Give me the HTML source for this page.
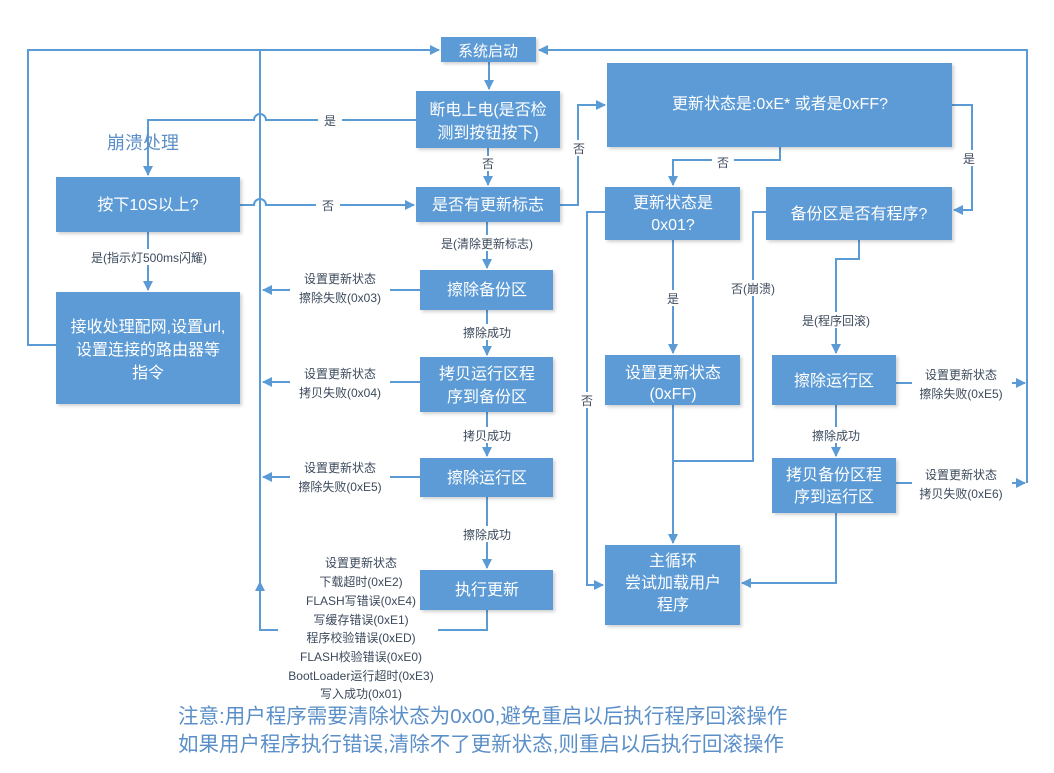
<!DOCTYPE html>
<html><head><meta charset="utf-8"><style>
html,body{margin:0;padding:0;background:#fff;}
svg{display:block;font-family:"Liberation Sans","Noto Sans CJK SC",sans-serif;}
.b{fill:#5b9bd5;filter:url(#sh);}
.t{fill:#fff;font-size:16px;text-anchor:middle;}
.l{stroke:#5b9bd5;stroke-width:2;fill:none;}
.s{fill:#3c4a5c;font-size:12px;text-anchor:middle;}
.w{fill:#fff;}
</style></head><body>
<svg width="1054" height="773" viewBox="0 0 1054 773">
<defs>
<filter id="sh" x="-5%" y="-5%" width="115%" height="120%"><feDropShadow dx="2" dy="2" stdDeviation="1.5" flood-color="#000" flood-opacity="0.18"/></filter>
<marker id="a" markerWidth="10" markerHeight="10" refX="9" refY="5" orient="auto" markerUnits="userSpaceOnUse"><path d="M0,0 L10,5 L0,10 Z" fill="#5b9bd5"/></marker>
</defs>

<!-- lines -->
<polyline class="l" points="56,345 28,345 28,50 439,50" marker-end="url(#a)"/>
<polyline class="l" points="1027,483 1027,50 539,50" marker-end="url(#a)"/>
<line class="l" x1="260" y1="50" x2="260" y2="590"/>
<polyline class="l" points="487,610 487,630 260,630 260,582" marker-end="url(#a)"/>
<line class="l" x1="489" y1="62" x2="489" y2="89" marker-end="url(#a)"/>
<path class="l" d="M416,120 L266,120 A6,6 0 0 0 254,120 L148,120 L148,175" marker-end="url(#a)"/>
<path class="l" d="M240,205 L254,205 A6,6 0 0 1 266,205 L414,205" marker-end="url(#a)"/>
<line class="l" x1="148" y1="232" x2="148" y2="290" marker-end="url(#a)"/>
<line class="l" x1="488" y1="148" x2="488" y2="185" marker-end="url(#a)"/>
<polyline class="l" points="560,205 578,205 578,105 605,105" marker-end="url(#a)"/>
<line class="l" x1="487" y1="222" x2="487" y2="268" marker-end="url(#a)"/>
<line class="l" x1="487" y1="310" x2="487" y2="355" marker-end="url(#a)"/>
<line class="l" x1="487" y1="412" x2="487" y2="456" marker-end="url(#a)"/>
<line class="l" x1="487" y1="497" x2="487" y2="568" marker-end="url(#a)"/>
<line class="l" x1="420" y1="290" x2="263" y2="290" marker-end="url(#a)"/>
<line class="l" x1="420" y1="382" x2="263" y2="382" marker-end="url(#a)"/>
<line class="l" x1="420" y1="477" x2="263" y2="477" marker-end="url(#a)"/>
<polyline class="l" points="780,147 780,160 673,160 673,185" marker-end="url(#a)"/>
<polyline class="l" points="952,105 972,105 972,210 954,210" marker-end="url(#a)"/>
<line class="l" x1="673" y1="240" x2="673" y2="353" marker-end="url(#a)"/>
<polyline class="l" points="605,212 587,212 587,585 603,585" marker-end="url(#a)"/>
<polyline class="l" points="766,212 753,212 753,461 673,461"/>
<line class="l" x1="673" y1="405" x2="673" y2="543" marker-end="url(#a)"/>
<polyline class="l" points="859,240 859,259 836,259 836,353" marker-end="url(#a)"/>
<line class="l" x1="836" y1="405" x2="836" y2="456" marker-end="url(#a)"/>
<polyline class="l" points="836,513 836,583 742,583" marker-end="url(#a)"/>
<line class="l" x1="896" y1="383" x2="1025" y2="383" marker-end="url(#a)"/>
<line class="l" x1="896" y1="483" x2="1025" y2="483" marker-end="url(#a)"/>

<!-- label backgrounds & labels -->
<rect class="w" x="318" y="112" width="24" height="16"/><text class="s" x="330" y="125">是</text>
<rect class="w" x="316" y="197" width="24" height="16"/><text class="s" x="328" y="210">否</text>
<rect class="w" x="82" y="249" width="134" height="16"/><text class="s" x="149" y="262">是(指示灯500ms闪耀)</text>
<rect class="w" x="478" y="156" width="20" height="15"/><text class="s" x="488" y="168">否</text>
<rect class="w" x="570" y="140" width="18" height="16"/><text class="s" x="579" y="153">否</text>
<rect class="w" x="430" y="235" width="114" height="16"/><text class="s" x="487" y="248">是(清除更新标志)</text>
<rect class="w" x="455" y="324" width="64" height="16"/><text class="s" x="487" y="337">擦除成功</text>
<rect class="w" x="455" y="427" width="64" height="16"/><text class="s" x="487" y="440">拷贝成功</text>
<rect class="w" x="455" y="526" width="64" height="16"/><text class="s" x="487" y="539">擦除成功</text>
<rect class="w" x="290" y="270" width="100" height="36"/><text class="s" x="340" y="283">设置更新状态</text><text class="s" x="340" y="302">擦除失败(0x03)</text>
<rect class="w" x="290" y="362" width="100" height="36"/><text class="s" x="340" y="378">设置更新状态</text><text class="s" x="340" y="397">拷贝失败(0x04)</text>
<rect class="w" x="290" y="458" width="100" height="36"/><text class="s" x="340" y="472">设置更新状态</text><text class="s" x="340" y="491">擦除失败(0xE5)</text>
<rect class="w" x="278" y="615" width="160" height="22"/>
<text class="s" x="361" y="567">设置更新状态</text>
<text class="s" x="361" y="586">下载超时(0xE2)</text>
<text class="s" x="361" y="605">FLASH写错误(0xE4)</text>
<text class="s" x="361" y="624">写缓存错误(0xE1)</text>
<text class="s" x="361" y="642">程序校验错误(0xED)</text>
<text class="s" x="361" y="661">FLASH校验错误(0xE0)</text>
<text class="s" x="361" y="680">BootLoader运行超时(0xE3)</text>
<text class="s" x="361" y="698">写入成功(0x01)</text>
<rect class="w" x="712" y="154" width="22" height="16"/><text class="s" x="723" y="167">否</text>
<rect class="w" x="960" y="150" width="18" height="16"/><text class="s" x="969" y="163">是</text>
<rect class="w" x="664" y="290" width="18" height="16"/><text class="s" x="673" y="303">是</text>
<rect class="w" x="578" y="392" width="18" height="16"/><text class="s" x="587" y="405">否</text>
<rect class="w" x="725" y="280" width="56" height="16"/><text class="s" x="753" y="293">否(崩溃)</text>
<rect class="w" x="792" y="312" width="88" height="16"/><text class="s" x="836" y="325">是(程序回滚)</text>
<rect class="w" x="806" y="427" width="62" height="16"/><text class="s" x="836" y="440">擦除成功</text>
<rect class="w" x="912" y="366" width="100" height="36"/><text class="s" x="961" y="379">设置更新状态</text><text class="s" x="961" y="398">擦除失败(0xE5)</text>
<rect class="w" x="912" y="466" width="100" height="36"/><text class="s" x="961" y="479">设置更新状态</text><text class="s" x="961" y="498">拷贝失败(0xE6)</text>

<text x="107" y="149" style="fill:#5b8fc8;font-size:18px;">崩溃处理</text>

<!-- boxes -->
<rect class="b" x="441" y="37" width="95" height="25"/><text class="t" x="488" y="56" style="font-size:15px">系统启动</text>
<rect class="b" x="416" y="91" width="144" height="57"/><text class="t" x="488" y="115">断电上电(是否检</text><text class="t" x="488" y="138">测到按钮按下)</text>
<rect class="b" x="416" y="187" width="144" height="35"/><text class="t" x="488" y="210">是否有更新标志</text>
<rect class="b" x="420" y="270" width="133" height="40"/><text class="t" x="487" y="295">擦除备份区</text>
<rect class="b" x="420" y="357" width="133" height="55"/><text class="t" x="487" y="379">拷贝运行区程</text><text class="t" x="487" y="402">序到备份区</text>
<rect class="b" x="420" y="458" width="133" height="39"/><text class="t" x="487" y="483">擦除运行区</text>
<rect class="b" x="420" y="570" width="133" height="40"/><text class="t" x="487" y="595">执行更新</text>
<rect class="b" x="56" y="177" width="184" height="55"/><text class="t" x="148" y="210">按下10S以上?</text>
<rect class="b" x="56" y="292" width="184" height="112"/><text class="t" x="148" y="332">接收处理配网,设置url,</text><text class="t" x="148" y="355">设置连接的路由器等</text><text class="t" x="148" y="378">指令</text>
<rect class="b" x="607" y="63" width="345" height="84"/><text class="t" x="780" y="109">更新状态是:0xE* 或者是0xFF?</text>
<rect class="b" x="605" y="187" width="135" height="53"/><text class="t" x="673" y="208">更新状态是</text><text class="t" x="673" y="230">0x01?</text>
<rect class="b" x="766" y="187" width="186" height="53"/><text class="t" x="859" y="219">备份区是否有程序?</text>
<rect class="b" x="605" y="355" width="135" height="50"/><text class="t" x="673" y="378">设置更新状态</text><text class="t" x="673" y="399">(0xFF)</text>
<rect class="b" x="772" y="355" width="124" height="50"/><text class="t" x="834" y="386">擦除运行区</text>
<rect class="b" x="772" y="458" width="124" height="55"/><text class="t" x="834" y="480">拷贝备份区程</text><text class="t" x="834" y="502">序到运行区</text>
<rect class="b" x="605" y="545" width="135" height="80"/><text class="t" x="673" y="566">主循环</text><text class="t" x="673" y="588">尝试加载用户</text><text class="t" x="673" y="610">程序</text>

<text x="178" y="723" style="fill:#5b8fc8;font-size:20.5px;">注意:用户程序需要清除状态为0x00,避免重启以后执行程序回滚操作</text>
<text x="178" y="751" style="fill:#5b8fc8;font-size:20.5px;">如果用户程序执行错误,清除不了更新状态,则重启以后执行回滚操作</text>
</svg>
</body></html>
